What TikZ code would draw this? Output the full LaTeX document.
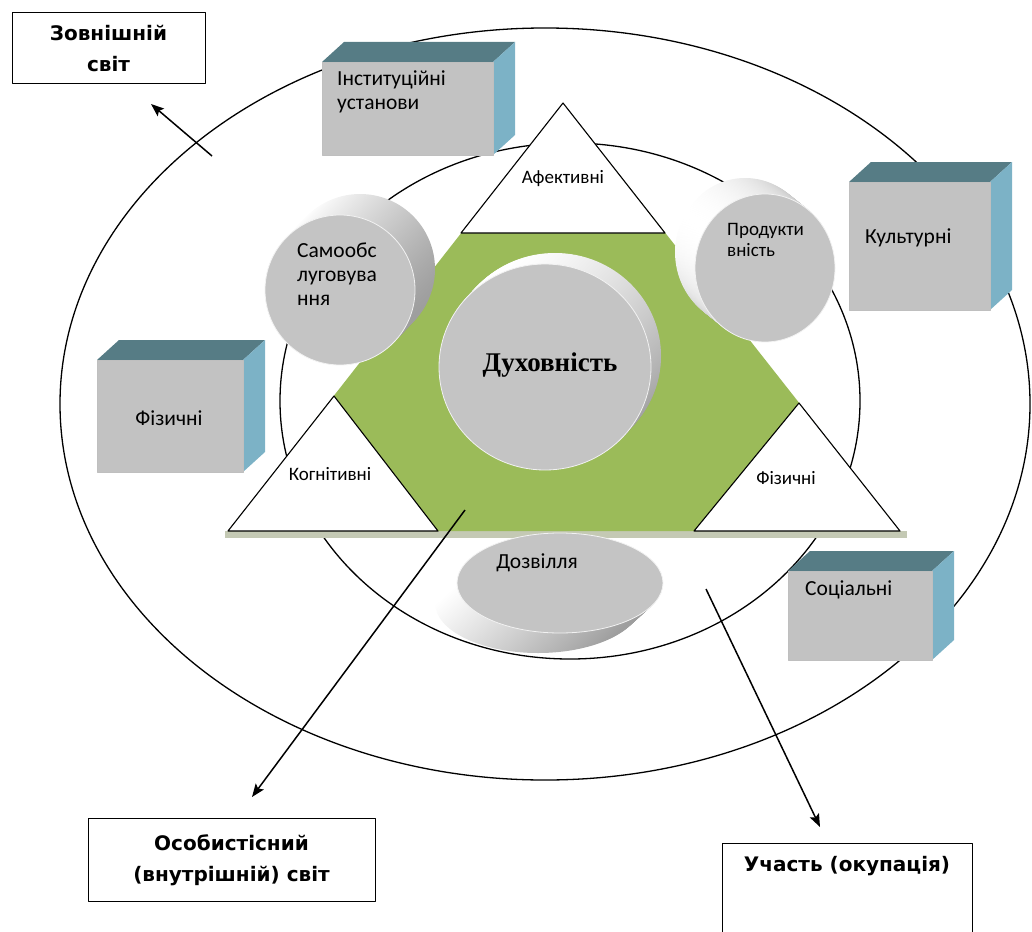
\documentclass[tikz,border=0pt]{standalone}
\usepackage{fontspec}
\setmainfont{Carlito}
\newfontfamily\lblfont{DejaVu Sans}
\newfontfamily\serifb{Liberation Serif}
\usetikzlibrary{arrows.meta}
\definecolor{grn}{RGB}{155,187,89}
\definecolor{facegray}{RGB}{196,196,196}
\definecolor{boxtop}{RGB}{86,124,133}
\definecolor{boxside}{RGB}{124,178,198}
\definecolor{boxfront}{RGB}{194,194,194}
\definecolor{baseband}{RGB}{196,201,180}
\newcommand\mycyl[7]{%
  \foreach \k in {24,...,1}{%
    \shade[top color=white, bottom color=black!38, shading angle=#7]
      ({#1+#5*\k/24},{#2+#6*\k/24}) ellipse [x radius=#3pt, y radius=#4pt];
  }%
  \fill[facegray] (#1,#2) ellipse [x radius=#3pt, y radius=#4pt];
  \draw[white!90!gray, line width=0.8pt] (#1,#2) ellipse [x radius=#3pt, y radius=#4pt];
}
\newcommand\mybox[4]{%
  \fill[boxtop] (#1,#2) -- ({#1+22},{#2-20}) -- ({#3+22},{#2-20}) -- (#3,#2) -- cycle;
  \fill[boxside] (#3,#2) -- ({#3+22},{#2-20}) -- ({#3+22},{#4-20}) -- (#3,#4) -- cycle;
  \fill[boxfront] (#1,#2) rectangle (#3,#4);
  \draw[black!25, line width=0.6pt] (#1,#2) rectangle (#3,#4);
}
\tikzset{
  lbl/.style={font=\lblfont\bfseries\fontsize{20}{31}\selectfont, align=center},
  lblbox/.style={draw, line width=1pt, inner sep=0pt},
  bigtxt/.style={font=\fontsize{21.5}{24}\selectfont, align=left, inner sep=0pt},
  smalltxt/.style={font=\fontsize{19}{21}\selectfont, align=left, inner sep=0pt},
  ring/.style={line width=1.3pt},
  tri/.style={draw, fill=white, line width=1.1pt},
  arr/.style={line width=1.5pt, -{Stealth[length=13pt, width=10pt, inset=2.5pt]}},
}
\begin{document}
\begin{tikzpicture}[x=1pt, y=-1pt, line join=round]
\useasboundingbox (0,0) rectangle (1032,931);
\clip (0,0) rectangle (1032,931);

% rings
\draw[ring] (545,404) ellipse [x radius=485pt, y radius=376pt];
\draw[ring] (570,401) ellipse [x radius=290pt, y radius=258pt];

% big triangle
\coordinate (A) at (563,103);
\coordinate (BL) at (228,531);
\coordinate (BR) at (900,531);
\fill[baseband] (225,531) rectangle (907,538);
\fill[grn] (A) -- (BL) -- (BR) -- cycle;

% corner triangles
\draw[tri] (A) -- (461,233) -- (665,233) -- cycle;
\draw[tri] (334,396) -- (BL) -- (438,531) -- cycle;
\draw[tri] (799,403) -- (694,531) -- (BR) -- cycle;
\node[smalltxt] (aff) at (563,179) {Афективні};
\node[smalltxt] (cog) at (330,474) {Когнітивні};
\node[smalltxt] (phys2) at (786,478) {Фізичні};

% cylinders
\mycyl{340}{290}{75}{75}{20}{-21}{60}
\node[bigtxt, anchor=west] (self) at (297,274) {Самообс\\луговува\\ння};

\mycyl{765}{268}{70}{74}{-20}{-16}{60}
\node[smalltxt, anchor=west] (prod) at (727,240) {Продукти\\вність};

\mycyl{560}{583}{103}{50}{-22}{20}{50}
\node[bigtxt] (leis) at (537,563) {Дозвілля};

\mycyl{545}{367}{106}{103}{10}{-11}{30}
\node[font=\serifb\bfseries\fontsize{27}{30}\selectfont] (spirit) at (550,365) {Духовність};

% boxes
\mybox{322}{62}{493}{155}
\node[bigtxt, anchor=west] (inst) at (337,92) {Інституційні\\установи};
\mybox{849}{182}{990}{310}
\node[bigtxt, anchor=west] (cult) at (865,238) {Культурні};
\mybox{97}{360}{243}{472}
\node[bigtxt] (phys) at (169,418) {Фізичні};
\mybox{788}{571}{932}{660}
\node[bigtxt, anchor=west] (soc) at (805,590) {Соціальні};

% label boxes
\node[lblbox, lbl, minimum width=193pt, minimum height=71pt] (outer) at (108.5,48.5) {Зовнішній\\світ};
\node[lblbox, lbl, minimum width=287pt, minimum height=83pt] (inner) at (231.5,860) {Особистісний\\(внутрішній) світ};
\node[lblbox, minimum width=250pt, minimum height=120pt, anchor=north west] (partbox) at (722,843) {};
\node[lbl] (part) at (847,866) {Участь (окупація)};

% arrows
\coordinate (a1s) at (212,156);
\coordinate (a1e) at (151,104);
\coordinate (a2s) at (465,510);
\coordinate (a2e) at (252,797);
\coordinate (a3s) at (706,589);
\coordinate (a3e) at (820,827);
\draw[arr] (a1s) -- (a1e);
\draw[arr] (a2s) -- (a2e);
\draw[arr] (a3s) -- (a3e);
\end{tikzpicture}
\end{document}
